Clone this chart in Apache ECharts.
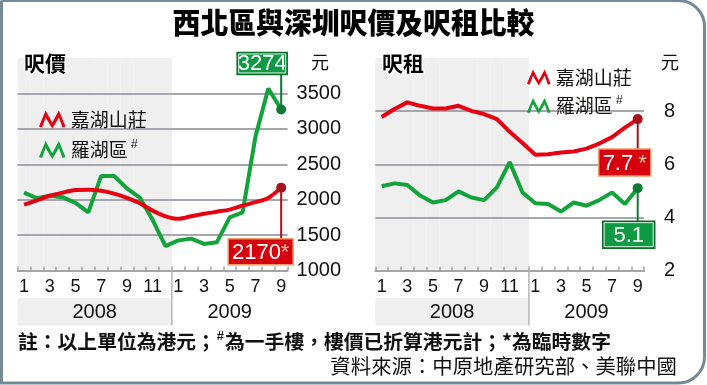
<!DOCTYPE html>
<html><head><meta charset="utf-8">
<script src="https://cdn.jsdelivr.net/npm/echarts@6/dist/echarts.min.js"></script>
<style>html,body{margin:0;padding:0;background:#fff}#c{width:707px;height:385px}</style>
</head><body><div id="c"></div>
<script>
// ---- data ----
const categories = ['2008-1','2008-2','2008-3','2008-4','2008-5','2008-6','2008-7','2008-8','2008-9','2008-10','2008-11','2008-12',
  '2009-1','2009-2','2009-3','2009-4','2009-5','2009-6','2009-7','2009-8','2009-9'];
const yearLabels = ['2008', '2009'];
const seriesNames = ['嘉湖山莊', '羅湖區'];
// 呎價 (HK$)
const priceKaWu = [1930,1990,2055,2100,2135,2140,2125,2085,2025,1950,1845,1765,1730,1765,1800,1830,1860,1915,1965,2025,2170];
const priceLoWu = [2100,2020,2055,2035,1955,1820,2335,2335,2160,2030,1715,1345,1425,1450,1375,1400,1750,1820,2890,3570,3274];
// 呎租 (HK$)
const rentKaWu = [7.78,8.08,8.33,8.2,8.1,8.1,8.2,8.01,7.89,7.7,7.22,6.8,6.36,6.38,6.44,6.48,6.59,6.78,7.02,7.38,7.7];
const rentLoWu = [5.17,5.28,5.22,4.82,4.56,4.65,4.98,4.75,4.65,5.13,6.08,4.94,4.53,4.5,4.22,4.56,4.44,4.65,4.94,4.5,5.1];
// tick labels
const priceTicks = [1000,1500,2000,2500,3000,3500];
const rentTicks = [2,4,6,8];
// provisional flags for latest values
const provisional = { priceKaWu: true, priceLoWu: false, rentKaWu: true, rentLoWu: false };

// ---- styling ----
const CJK = '"Noto Sans CJK TC","Noto Sans CJK SC",sans-serif';
const NUM = '"Liberation Sans",Arial,sans-serif';
const RED = '#e60012', RED_D = '#a8121c', GRN = '#13a33b', GRN_D = '#0b7a34';
const SHADE = '#efefef';
const zig = 'path://M0,19 L7,2 L14,15 L21,2 L28,19 L24.8,20 L21,9.5 L14,21 L7,9.5 L3.2,20 Z';
const last = categories.length - 1;

const priceInt = priceTicks[1] - priceTicks[0];
const priceMax = priceTicks[priceTicks.length - 1] + priceInt;
const rentInt = rentTicks[1] - rentTicks[0];
const rentMax = rentTicks[rentTicks.length - 1] + rentInt;

function withLast(arr, dark) {
  return arr.map((v, i) => i === arr.length - 1 ? { value: v, itemStyle: { color: dark } } : v);
}
function shade(max) {
  return categories.map(c => c.startsWith(yearLabels[0]) ? max : '-');
}

const chart = echarts.init(document.getElementById('c'), null, { renderer: 'canvas' });

function xAxis(gi) {
  return {
    type: 'category', gridIndex: gi, data: categories, boundaryGap: true,
    axisLine: { lineStyle: { color: '#a5a5a5', width: 2 } },
    axisTick: { show: true, inside: true, length: 4, interval: 0, lineStyle: { color: '#a5a5a5', width: 1.5 } },
    axisLabel: { interval: 1, margin: 8, color: '#111', fontFamily: NUM, fontSize: 18,
      formatter: v => v.split('-')[1] },
    splitLine: { show: false }
  };
}
function yAxis(gi, ticks, interval, max, margin) {
  return {
    type: 'value', gridIndex: gi, position: 'right', min: ticks[0], max: max, interval: interval,
    axisLine: { show: false }, axisTick: { show: false },
    axisLabel: { margin: margin, color: '#111', fontFamily: NUM, fontSize: 20, showMaxLabel: false,
      formatter: v => String(v) },
    splitLine: { show: true, showMinLine: false, showMaxLine: false, lineStyle: { color: '#a6a6ae', width: 2 } }
  };
}
function line(name, xi, data, color, dark, smooth) {
  return {
    type: 'line', name: name, xAxisIndex: xi, yAxisIndex: xi, data: withLast(data, dark),
    lineStyle: { color: color, width: 4 }, itemStyle: { color: color },
    symbol: 'circle', symbolSize: (v, p) => p.dataIndex === last ? 10 : 0,
    showAllSymbol: true, smooth: smooth, z: 3, silent: true
  };
}
const legendRich = { a: { fontSize: 19, fontFamily: CJK, color: '#111' }, s: { fontSize: 12, fontFamily: NUM, color: '#111', padding: [0, 0, 10, 0] } };
const legendFmt = n => n === seriesNames[1] ? '{a|' + n + '} {s|#}' : '{a|' + n + '}';

chart.setOption({
  animation: false,
  backgroundColor: '#fff',
  grid: [
    { left: 17.6, right: 419.4, top: 58, bottom: 114.5 },
    { left: 375.3, right: 62.9, top: 58, bottom: 114.5 }
  ],
  xAxis: [xAxis(0), xAxis(1)],
  yAxis: [yAxis(0, priceTicks, priceInt, priceMax, 9), yAxis(1, rentTicks, rentInt, rentMax, 20)],
  legend: [
    { data: seriesNames.map(n => ({ name: n, icon: zig })), orient: 'vertical', left: 34, top: 105,
      itemWidth: 27, itemHeight: 18, itemGap: 10, selectedMode: false, formatter: legendFmt,
      textStyle: { rich: legendRich } },
    { data: seriesNames.map(n => ({ name: n, icon: zig })), orient: 'vertical', left: 522, top: 63,
      itemWidth: 24, itemHeight: 16, itemGap: 8, selectedMode: false, formatter: legendFmt,
      textStyle: { rich: legendRich } }
  ],
  series: [
    { type: 'bar', xAxisIndex: 0, yAxisIndex: 0, data: shade(priceMax), barWidth: '100%', barGap: '0%',
      itemStyle: { color: SHADE }, z: -1, silent: true },
    { type: 'bar', xAxisIndex: 1, yAxisIndex: 1, data: shade(rentMax), barWidth: '100%', barGap: '0%',
      itemStyle: { color: SHADE }, z: -1, silent: true },
    line(seriesNames[1], 0, priceLoWu, GRN, GRN_D, false),
    line(seriesNames[0], 0, priceKaWu, RED, RED_D, 0.3),
    line(seriesNames[1], 1, rentLoWu, GRN, GRN_D, false),
    line(seriesNames[0], 1, rentKaWu, RED, RED_D, false)
  ]
});

// ---- annotations positioned through the library's scales ----
const g = [];
// frame
g.push({ type: 'rect', shape: { x: 1.5, y: 0.5, width: 703, height: 382.5, r: [0, 26, 26, 0] },
  style: { fill: 'none', stroke: '#748b97', lineWidth: 3 }, z: 100 });
// title
g.push({ type: 'text', x: 353.5, y: 23, scaleX: 0.96, style: { text: '西北區與深圳呎價及呎租比較',
  font: '900 29px ' + CJK, fill: '#000', align: 'center', verticalAlign: 'middle' } });

function panel(gi, title, titleX, unitX) {
  const p0 = chart.convertToPixel({ xAxisIndex: gi }, 0);
  const p1 = chart.convertToPixel({ xAxisIndex: gi }, 1);
  const step = p1 - p0;
  const left = p0 - step / 2;
  const right = chart.convertToPixel({ xAxisIndex: gi }, last) + step / 2;
  const n2008 = categories.filter(c => c.startsWith(yearLabels[0])).length;
  const split = left + step * n2008;
  const axisY = chart.convertToPixel({ yAxisIndex: gi }, gi === 0 ? priceTicks[0] : rentTicks[0]);
  g.push({ type: 'rect', shape: { x: left, y: 298, width: split - left, height: 27.5 }, style: { fill: SHADE }, z: 1 });
  g.push({ type: 'line', shape: { x1: split, y1: axisY, x2: split, y2: 325.5 }, style: { stroke: '#b5b5b5', lineWidth: 1.5 }, z: 2 });
  g.push({ type: 'text', x: (left + split) / 2, y: 312.5, style: { text: yearLabels[0], font: '20px ' + NUM, fill: '#111', align: 'center', verticalAlign: 'middle' }, z: 3 });
  g.push({ type: 'text', x: (split + right) / 2, y: 312.5, style: { text: yearLabels[1], font: '20px ' + NUM, fill: '#111', align: 'center', verticalAlign: 'middle' }, z: 3 });
  g.push({ type: 'text', x: titleX, y: 63, style: { text: title, font: 'bold 21px ' + CJK, fill: '#000',
    stroke: '#fff', lineWidth: 3, align: 'left', verticalAlign: 'middle' }, z: 5 });
  g.push({ type: 'text', x: unitX, y: 62, style: { text: '元', font: '18px ' + CJK, fill: '#111', align: 'left', verticalAlign: 'middle' }, z: 5 });
}
panel(0, '呎價', 24, 311);
panel(1, '呎租', 382, 661);

function callout(seriesIndex, data, star, dx, dy, w, h, fill, stroke, lineColor, starPad, innerWhite) {
  const v = data[last];
  const [px, py] = chart.convertToPixel({ seriesIndex: seriesIndex }, [last, v]);
  const top = dy < 0 ? py + dy - h : py + dy;
  const x = px + dx;
  g.push({ type: 'line', shape: { x1: px, y1: py, x2: px, y2: py + dy }, style: { stroke: lineColor, lineWidth: 2 }, z: 6 });
  g.push({ type: 'rect', shape: { x: x, y: top, width: w, height: h }, style: { fill: fill, stroke: stroke, lineWidth: 1.5 }, z: 7 });
  if (innerWhite) g.push({ type: 'rect', shape: { x: x + 1.5, y: top + 1.5, width: w - 3, height: h - 3 }, style: { fill: 'none', stroke: 'rgba(255,255,255,0.85)', lineWidth: 1 }, z: 8 });
  const txt = '{v|' + v + '}' + (star ? '{s|*}' : '');
  g.push({ type: 'text', x: x + w / 2, y: top + h / 2 + 1, style: { text: txt, align: 'center', verticalAlign: 'middle',
    rich: { v: { font: '22px ' + NUM, fill: '#fff' }, s: { font: '22px ' + NUM, fill: '#ffc89a', padding: [0, 0, 0, starPad] } } }, z: 9 });
}
callout(2, priceLoWu, provisional.priceLoWu, -44, -35, 50, 22, '#0e9a42', '#0a6b2a', GRN_D, 0, true);
callout(3, priceKaWu, provisional.priceKaWu, -53, 51, 65, 26, '#d7000f', '#f39a6a', RED_D, 0, false);
callout(5, rentKaWu, provisional.rentKaWu, -39, 30, 52, 27, '#d7000f', '#f39a6a', RED_D, 5, false);
callout(4, rentLoWu, provisional.rentLoWu, -35, 33, 52, 27, '#0e9a42', '#0a6b2a', GRN_D, 0, true);

// footnotes
g.push({ type: 'text', x: 18, y: 341, style: {
  text: '{n|註：以上單位為港元；}{s|#}{n|為一手樓，樓價已折算港元計；*為臨時數字}', align: 'left', verticalAlign: 'middle',
  rich: { n: { font: 'bold 19.8px ' + CJK, fill: '#111' }, s: { font: 'bold 13px ' + NUM, fill: '#111', padding: [0, 1, 9, 1] } } } });
g.push({ type: 'text', x: 677, y: 366, style: { text: '資料來源：中原地產研究部、美聯中國',
  font: '20.4px ' + CJK, fill: '#111', align: 'right', verticalAlign: 'middle' } });

chart.setOption({ graphic: g });
</script></body></html>
